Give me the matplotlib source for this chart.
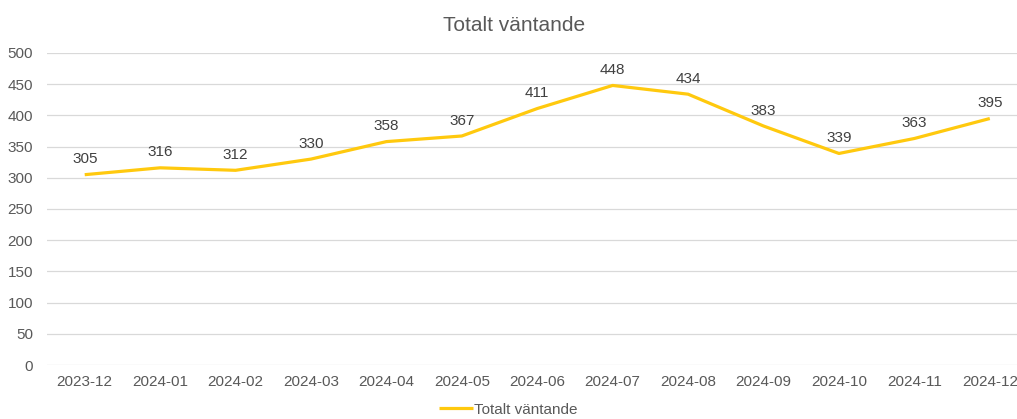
import numpy as np
import matplotlib.pyplot as plt

# Data
months = ["2023-12", "2024-01", "2024-02", "2024-03", "2024-04", "2024-05", "2024-06",
          "2024-07", "2024-08", "2024-09", "2024-10", "2024-11", "2024-12"]
waiting = [305, 316, 312, 330, 358, 367, 411, 448, 434, 383, 339, 363, 395]

plt.rcParams['font.family'] = ['Liberation Sans', 'DejaVu Sans']
txt = "#595959"
yellow = "#FFC90E"

fig = plt.figure(figsize=(10.17, 4.19), dpi=100)
ax = fig.add_axes([47 / 1017, 1 - 365 / 419, 970 / 1017, (365 - 53) / 419])

x = np.arange(len(months))
ax.plot(x, waiting, color=yellow, lw=2.3, label="Totalt väntande", solid_capstyle="butt")
for xi, v in zip(x, waiting):
    ax.annotate(str(v), (xi, v), xytext=(0, 6), textcoords="offset points",
                ha="center", va="bottom", fontsize=11, color="#404040")

ax.set_ylim(0, 500)
ax.set_yticks(range(0, 501, 50))
ax.set_xlim(-0.5, (1017 - 85) / 75.4)
ax.set_xticks(x)
ax.set_xticklabels(months)
ax.grid(axis="y", color="#D9D9D9", lw=0.9)
ax.set_axisbelow(True)
for s in ax.spines.values():
    s.set_visible(False)
ax.tick_params(length=0, labelsize=11, labelcolor=txt, pad=7)
ax.tick_params(axis="y", pad=10)

fig.text(0.505, 0.94, "Totalt väntande", ha="center", va="center", fontsize=15, color=txt)
fig.legend(loc="center", bbox_to_anchor=(0.5, 0.022), frameon=False, fontsize=11,
           labelcolor=txt, handlelength=2.2, handletextpad=0.1)

fig.savefig("out.png", dpi=100)
